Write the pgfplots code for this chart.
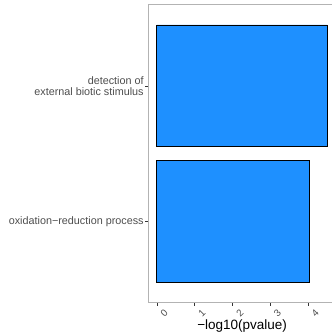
\documentclass[border=0pt]{standalone}
\usepackage{pgfplots}
\pgfplotsset{compat=1.18}
\usepackage{fontspec}
\setmainfont{Liberation Sans}
\definecolor{dodger}{HTML}{1E90FF}
\definecolor{grey30}{HTML}{4D4D4D}
\definecolor{grey20}{HTML}{333333}
\definecolor{frame}{HTML}{B3B3B3}
\begin{document}
\begin{tikzpicture}
\useasboundingbox (0pt,0pt) rectangle (332pt,333pt);
\clip (0pt,0pt) rectangle (332pt,333pt);
\begin{axis}[
  at={(148.3pt,30.5pt)}, anchor=south west,
  scale only axis, width=187.7pt, height=297.9pt,
  xmin=-0.226, xmax=4.746, ymin=-0.6, ymax=1.6,
  xbar, bar width=0.9,
  axis line style={frame, line width=0.8pt},
  tick align=outside, major tick length=3pt,
  tick style={grey20, line width=0.6pt},
  xtick pos=bottom, ytick pos=left,
  xtick={0,1,2,3,4},
  ytick={0,1},
  yticklabels={oxidation\textminus reduction process, {detection of\\external biotic stimulus}},
  yticklabel style={align=right, font=\fontsize{10.8}{11}\selectfont, text=grey30, inner sep=1.5pt},
  xticklabel style={rotate=45, anchor=center, yshift=-10.5pt, inner sep=0pt, font=\fontsize{9.8}{10}\selectfont, text=grey30},
  /pgf/number format/assume math mode=true,
  xlabel={\textminus log10(pvalue)},
  xlabel style={font=\fontsize{13.5}{14}\selectfont, at={(axis description cs:0.5,0)}, anchor=north, yshift=-17.5pt, inner sep=0pt},
]
\addplot[fill=dodger, draw=black, line width=0.8pt] coordinates {(4.04,0) (4.52,1)};
\end{axis}
\end{tikzpicture}
\end{document}
